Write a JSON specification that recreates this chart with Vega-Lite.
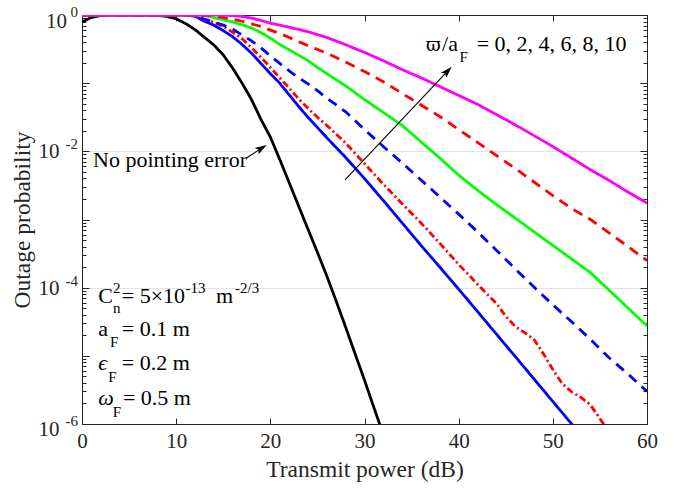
{
  "$schema": "https://vega.github.io/schema/vega-lite/v6.json",
  "width": 565,
  "height": 409,
  "autosize": "none",
  "padding": {"left": 82, "top": 15, "right": 31, "bottom": 65},
  "background": "white",
  "config": {
    "view": {"stroke": "#262626", "strokeWidth": 1},
    "font": "Liberation Serif",
    "axis": {"domainColor": "#262626", "tickColor": "#262626", "labelColor": "#262626", "titleColor": "#262626", "labelFont": "Liberation Serif", "titleFont": "Liberation Serif", "titleFontWeight": "normal", "labelFlush": false}
  },
  "datasets": {
    "curves": [
      {"s":"np","x":0,"p":0.79},{"s":"np","x":1,"p":0.92},{"s":"np","x":2,"p":0.98},{"s":"np","x":3,"p":1.0},{"s":"np","x":6,"p":1.0},{"s":"np","x":8,"p":0.985},{"s":"np","x":9,"p":0.955},{"s":"np","x":10,"p":0.88},{"s":"np","x":11,"p":0.75},{"s":"np","x":12,"p":0.61},{"s":"np","x":13,"p":0.47},{"s":"np","x":14,"p":0.363},{"s":"np","x":15,"p":0.26},{"s":"np","x":16,"p":0.166},{"s":"np","x":17,"p":0.1},{"s":"np","x":18,"p":0.0575},{"s":"np","x":19,"p":0.0295},{"s":"np","x":20,"p":0.0162},{"s":"np","x":21,"p":0.0076},{"s":"np","x":22,"p":0.00347},{"s":"np","x":23,"p":0.00158},{"s":"np","x":24,"p":0.00072},{"s":"np","x":25,"p":0.00033},{"s":"np","x":26,"p":0.000148},{"s":"np","x":27,"p":0.000063},{"s":"np","x":28,"p":0.0000263},{"s":"np","x":29,"p":0.0000107},{"s":"np","x":30,"p":0.0000044},{"s":"np","x":31,"p":0.00000174},{"s":"np","x":32,"p":0.0000007},
      {"s":"0","x":0,"p":1.0},{"s":"0","x":10,"p":1.0},{"s":"0","x":11,"p":0.995},{"s":"0","x":12,"p":0.96},{"s":"0","x":13,"p":0.81},{"s":"0","x":14,"p":0.71},{"s":"0","x":15,"p":0.59},{"s":"0","x":16,"p":0.48},{"s":"0","x":17,"p":0.37},{"s":"0","x":18,"p":0.275},{"s":"0","x":19,"p":0.195},{"s":"0","x":20,"p":0.138},{"s":"0","x":21,"p":0.1},{"s":"0","x":22,"p":0.0676},{"s":"0","x":23,"p":0.0457},{"s":"0","x":24,"p":0.0316},{"s":"0","x":25,"p":0.0224},{"s":"0","x":26,"p":0.0158},{"s":"0","x":28,"p":0.00813},{"s":"0","x":30,"p":0.00398},{"s":"0","x":32,"p":0.0019},{"s":"0","x":34,"p":0.00089},{"s":"0","x":36,"p":0.000417},{"s":"0","x":38,"p":0.0002},{"s":"0","x":40,"p":0.000095},{"s":"0","x":42,"p":0.0000447},{"s":"0","x":44,"p":0.0000209},{"s":"0","x":46,"p":0.0000098},{"s":"0","x":48,"p":0.00000457},{"s":"0","x":50,"p":0.00000214},{"s":"0","x":52,"p":0.000001},{"s":"0","x":53,"p":0.00000068},
      {"s":"2","x":0,"p":1.0},{"s":"2","x":10,"p":1.0},{"s":"2","x":11,"p":0.995},{"s":"2","x":12,"p":0.97},{"s":"2","x":13,"p":0.85},{"s":"2","x":14,"p":0.78},{"s":"2","x":15,"p":0.68},{"s":"2","x":16,"p":0.56},{"s":"2","x":17,"p":0.447},{"s":"2","x":18,"p":0.331},{"s":"2","x":19,"p":0.24},{"s":"2","x":20,"p":0.17},{"s":"2","x":21,"p":0.12},{"s":"2","x":22,"p":0.085},{"s":"2","x":23,"p":0.0589},{"s":"2","x":24,"p":0.0427},{"s":"2","x":25,"p":0.0316},{"s":"2","x":26,"p":0.024},{"s":"2","x":27,"p":0.0178},{"s":"2","x":28,"p":0.0132},{"s":"2","x":30,"p":0.0066},{"s":"2","x":32,"p":0.0033},{"s":"2","x":34,"p":0.0017},{"s":"2","x":36,"p":0.00089},{"s":"2","x":38,"p":0.000447},{"s":"2","x":40,"p":0.000219},{"s":"2","x":41,"p":0.000158},{"s":"2","x":42,"p":0.000112},{"s":"2","x":43,"p":0.000081},{"s":"2","x":44,"p":0.000059},{"s":"2","x":45,"p":0.000038},{"s":"2","x":46,"p":0.000027},{"s":"2","x":47,"p":0.0000219},{"s":"2","x":48,"p":0.0000174},{"s":"2","x":49,"p":0.0000107},{"s":"2","x":50,"p":0.0000063},{"s":"2","x":51,"p":0.0000039},{"s":"2","x":52,"p":0.00000295},{"s":"2","x":53,"p":0.00000245},{"s":"2","x":54,"p":0.0000019},{"s":"2","x":55,"p":0.0000012},{"s":"2","x":56,"p":0.00000076},
      {"s":"4","x":0,"p":1.0},{"s":"4","x":10,"p":1.0},{"s":"4","x":11,"p":0.995},{"s":"4","x":12,"p":0.975},{"s":"4","x":13,"p":0.87},{"s":"4","x":14,"p":0.79},{"s":"4","x":15,"p":0.71},{"s":"4","x":16,"p":0.62},{"s":"4","x":17,"p":0.51},{"s":"4","x":18,"p":0.417},{"s":"4","x":19,"p":0.331},{"s":"4","x":20,"p":0.251},{"s":"4","x":21,"p":0.195},{"s":"4","x":22,"p":0.151},{"s":"4","x":23,"p":0.12},{"s":"4","x":24,"p":0.0977},{"s":"4","x":25,"p":0.0776},{"s":"4","x":26,"p":0.0603},{"s":"4","x":28,"p":0.038},{"s":"4","x":30,"p":0.0209},{"s":"4","x":32,"p":0.01175},{"s":"4","x":34,"p":0.00676},{"s":"4","x":36,"p":0.0038},{"s":"4","x":38,"p":0.00214},{"s":"4","x":40,"p":0.0012},{"s":"4","x":42,"p":0.00066},{"s":"4","x":44,"p":0.000355},{"s":"4","x":46,"p":0.00019},{"s":"4","x":48,"p":0.000102},{"s":"4","x":50,"p":0.000056},{"s":"4","x":52,"p":0.0000316},{"s":"4","x":54,"p":0.0000174},{"s":"4","x":56,"p":0.0000093},{"s":"4","x":58,"p":0.0000054},{"s":"4","x":60,"p":0.000003},
      {"s":"6","x":0,"p":1.0},{"s":"6","x":12,"p":1.0},{"s":"6","x":13,"p":0.99},{"s":"6","x":14,"p":0.91},{"s":"6","x":15,"p":0.85},{"s":"6","x":16,"p":0.79},{"s":"6","x":17,"p":0.72},{"s":"6","x":18,"p":0.645},{"s":"6","x":19,"p":0.55},{"s":"6","x":20,"p":0.457},{"s":"6","x":21,"p":0.37},{"s":"6","x":22,"p":0.309},{"s":"6","x":23,"p":0.257},{"s":"6","x":24,"p":0.214},{"s":"6","x":25,"p":0.17},{"s":"6","x":26,"p":0.138},{"s":"6","x":28,"p":0.0912},{"s":"6","x":30,"p":0.0575},{"s":"6","x":32,"p":0.0372},{"s":"6","x":34,"p":0.024},{"s":"6","x":36,"p":0.0138},{"s":"6","x":38,"p":0.00794},{"s":"6","x":40,"p":0.00447},{"s":"6","x":42,"p":0.00269},{"s":"6","x":44,"p":0.00166},{"s":"6","x":46,"p":0.00105},{"s":"6","x":48,"p":0.00066},{"s":"6","x":50,"p":0.000417},{"s":"6","x":52,"p":0.000263},{"s":"6","x":54,"p":0.000166},{"s":"6","x":56,"p":0.000091},{"s":"6","x":58,"p":0.00005},{"s":"6","x":60,"p":0.0000275},
      {"s":"8","x":0,"p":1.0},{"s":"8","x":12,"p":1.0},{"s":"8","x":14,"p":0.97},{"s":"8","x":16,"p":0.87},{"s":"8","x":17,"p":0.81},{"s":"8","x":18,"p":0.74},{"s":"8","x":19,"p":0.68},{"s":"8","x":20,"p":0.6},{"s":"8","x":21,"p":0.537},{"s":"8","x":22,"p":0.468},{"s":"8","x":24,"p":0.355},{"s":"8","x":26,"p":0.275},{"s":"8","x":28,"p":0.204},{"s":"8","x":30,"p":0.148},{"s":"8","x":32,"p":0.105},{"s":"8","x":34,"p":0.0708},{"s":"8","x":36,"p":0.0479},{"s":"8","x":38,"p":0.0324},{"s":"8","x":40,"p":0.0209},{"s":"8","x":42,"p":0.0135},{"s":"8","x":44,"p":0.0087},{"s":"8","x":46,"p":0.00562},{"s":"8","x":48,"p":0.00355},{"s":"8","x":50,"p":0.00224},{"s":"8","x":52,"p":0.00145},{"s":"8","x":54,"p":0.001},{"s":"8","x":56,"p":0.00063},{"s":"8","x":58,"p":0.0004},{"s":"8","x":60,"p":0.00025},
      {"s":"10","x":0,"p":1.0},{"s":"10","x":14,"p":1.0},{"s":"10","x":16,"p":0.98},{"s":"10","x":17,"p":0.95},{"s":"10","x":18,"p":0.9},{"s":"10","x":19,"p":0.83},{"s":"10","x":20,"p":0.759},{"s":"10","x":21,"p":0.71},{"s":"10","x":22,"p":0.661},{"s":"10","x":24,"p":0.569},{"s":"10","x":26,"p":0.468},{"s":"10","x":28,"p":0.367},{"s":"10","x":30,"p":0.282},{"s":"10","x":32,"p":0.214},{"s":"10","x":34,"p":0.158},{"s":"10","x":36,"p":0.12},{"s":"10","x":38,"p":0.0891},{"s":"10","x":40,"p":0.0661},{"s":"10","x":42,"p":0.049},{"s":"10","x":44,"p":0.0347},{"s":"10","x":46,"p":0.0245},{"s":"10","x":48,"p":0.017},{"s":"10","x":50,"p":0.01175},{"s":"10","x":52,"p":0.00794},{"s":"10","x":54,"p":0.00537},{"s":"10","x":56,"p":0.00372},{"s":"10","x":58,"p":0.00251},{"s":"10","x":60,"p":0.00174}
    ],
    "arrows": [
      {"a":"np","x":17.42,"y":0.0079,"x2":19.07,"y2":0.01114},
      {"a":"w","x":27.93,"y":0.0038,"x2":38.82,"y2":0.1503}
    ],
    "mainText": [
      {"t":"No pointing error","x":1.17,"y":0.00596},
      {"t":"/a","x":38.24,"y":0.299},
      {"t":"= 0, 2, 4, 6, 8, 10","x":41.91,"y":0.299},
      {"t":"C","x":1.73,"y":0.000059},
      {"t":"= 5×10","x":4.22,"y":0.000059},
      {"t":"m","x":14.23,"y":0.000059},
      {"t":"a","x":1.73,"y":0.0000195},
      {"t":"= 0.1 m","x":4.22,"y":0.0000195},
      {"t":"= 0.2 m","x":4.22,"y":0.0000062},
      {"t":"= 0.5 m","x":4.35,"y":0.0000019}
    ],
    "greekText": [
      {"t":"ϖ","x":36.53,"y":0.299}
    ],
    "italicText": [
      {"t":"ϵ","x":1.73,"y":0.0000062},
      {"t":"ω","x":1.73,"y":0.0000019}
    ],
    "scriptText": [
      {"t":"F","x":40.1,"y":0.2065},
      {"t":"2","x":3.29,"y":0.0000835},
      {"t":"n","x":3.29,"y":0.0000421},
      {"t":"-13","x":10.99,"y":0.0000835},
      {"t":"-2/3","x":16.25,"y":0.0000835},
      {"t":"F","x":2.97,"y":0.00001333},
      {"t":"F","x":2.79,"y":0.00000418},
      {"t":"F","x":3.26,"y":0.00000128}
    ],
    "ylab": [
      {"p":1,"e":"0"},{"p":0.01,"e":"-2"},{"p":0.0001,"e":"-4"},{"p":0.000001,"e":"-6"}
    ]
  },
  "layer": [
    {
      "data": {"name": "curves"},
      "mark": {"type": "line", "strokeWidth": 2.8, "clip": true},
      "encoding": {
        "x": {"field": "x", "type": "quantitative", "scale": {"domain": [0, 60], "nice": false},
          "axis": {"orient": "bottom", "values": [0,10,20,30,40,50,60], "tickSize": -6, "labelFontSize": 21, "labelPadding": 12, "grid": false, "title": "Transmit power (dB)", "titleFontSize": 23.5, "titlePadding": 6}},
        "y": {"field": "p", "type": "quantitative", "scale": {"type": "log", "domain": [0.000001, 1], "nice": false},
          "axis": {"orient": "left", "labels": false,
            "values": [0.000001,0.000002,0.000003,0.000004,0.000005,0.000006,0.000007,0.000008,0.000009,0.00001,0.00002,0.00003,0.00004,0.00005,0.00006,0.00007,0.00008,0.00009,0.0001,0.0002,0.0003,0.0004,0.0005,0.0006,0.0007,0.0008,0.0009,0.001,0.002,0.003,0.004,0.005,0.006,0.007,0.008,0.009,0.01,0.02,0.03,0.04,0.05,0.06,0.07,0.08,0.09,0.1,0.2,0.3,0.4,0.5,0.6,0.7,0.8,0.9,1],
            "tickSize": {"condition": {"test": "abs(log(datum.value)/LN10 - round(log(datum.value)/LN10)) < 0.000001", "value": -7}, "value": -4},
            "grid": true, "gridColor": "#e3e3e3", "gridWidth": 1,
            "gridOpacity": {"condition": {"test": "abs(log(datum.value)/LN10/2 - round(log(datum.value)/LN10/2)) < 0.000001", "value": 1}, "value": 0},
            "title": "Outage probability", "titleFontSize": 23.5, "titlePadding": 47, "titleY": 204.5, "titleAngle": -90, "titleAlign": "center"}},
        "color": {"field": "s", "type": "nominal", "legend": null,
          "scale": {"domain": ["np","0","2","4","6","8","10"], "range": ["#000000","#0000ff","#ff0000","#0000ff","#00ff00","#ff0000","#ff00ff"]}},
        "strokeDash": {"field": "s", "type": "nominal", "legend": null,
          "scale": {"domain": ["np","0","2","4","6","8","10"], "range": [[1,0],[1,0],[7,3,2,3],[10,7],[1,0],[10,7],[1,0]]}}
      }
    },
    {
      "data": {"name": "curves"},
      "mark": {"type": "point", "opacity": 0},
      "encoding": {
        "x": {"field": "x", "type": "quantitative", "scale": {"domain": [0, 60], "nice": false},
          "axis": {"orient": "top", "values": [0,10,20,30,40,50,60], "tickSize": -6, "labels": false, "title": null, "grid": false}},
        "y": {"field": "p", "type": "quantitative", "scale": {"type": "log", "domain": [0.000001, 1], "nice": false},
          "axis": {"orient": "right", "labels": false, "title": null, "grid": false,
            "values": [0.000001,0.000002,0.000003,0.000004,0.000005,0.000006,0.000007,0.000008,0.000009,0.00001,0.00002,0.00003,0.00004,0.00005,0.00006,0.00007,0.00008,0.00009,0.0001,0.0002,0.0003,0.0004,0.0005,0.0006,0.0007,0.0008,0.0009,0.001,0.002,0.003,0.004,0.005,0.006,0.007,0.008,0.009,0.01,0.02,0.03,0.04,0.05,0.06,0.07,0.08,0.09,0.1,0.2,0.3,0.4,0.5,0.6,0.7,0.8,0.9,1],
            "tickSize": {"condition": {"test": "abs(log(datum.value)/LN10 - round(log(datum.value)/LN10)) < 0.000001", "value": -7}, "value": -4}}}
      }
    },
    {
      "data": {"name": "arrows"},
      "mark": {"type": "rule", "color": "#000000", "strokeWidth": 1.1},
      "encoding": {
        "x": {"field": "x", "type": "quantitative", "axis": null, "scale": {"domain": [0, 60], "nice": false}},
        "y": {"field": "y", "type": "quantitative", "axis": null, "scale": {"type": "log", "domain": [0.000001, 1], "nice": false}},
        "x2": {"field": "x2"},
        "y2": {"field": "y2"}
      }
    },
    {
      "data": {"name": "arrows"},
      "transform": [{"filter": "datum.a == 'np'"}],
      "mark": {"type": "point", "shape": "M0,-1L0.6,0.95L0,0.55L-0.6,0.95Z", "filled": true, "color": "#000000", "opacity": 1, "size": 150, "angle": 59},
      "encoding": {
        "x": {"field": "x2", "type": "quantitative", "axis": null, "scale": {"domain": [0, 60], "nice": false}},
        "y": {"field": "y2", "type": "quantitative", "axis": null, "scale": {"type": "log", "domain": [0.000001, 1], "nice": false}}
      }
    },
    {
      "data": {"name": "arrows"},
      "transform": [{"filter": "datum.a == 'w'"}],
      "mark": {"type": "point", "shape": "M0,-1L0.6,0.95L0,0.55L-0.6,0.95Z", "filled": true, "color": "#000000", "opacity": 1, "size": 150, "angle": 43},
      "encoding": {
        "x": {"field": "x2", "type": "quantitative", "axis": null, "scale": {"domain": [0, 60], "nice": false}},
        "y": {"field": "y2", "type": "quantitative", "axis": null, "scale": {"type": "log", "domain": [0.000001, 1], "nice": false}}
      }
    },
    {
      "data": {"name": "mainText"},
      "mark": {"type": "text", "font": "Liberation Serif", "fontSize": 22, "align": "left", "baseline": "alphabetic", "color": "#000000"},
      "encoding": {
        "x": {"field": "x", "type": "quantitative", "axis": null, "scale": {"domain": [0, 60], "nice": false}},
        "y": {"field": "y", "type": "quantitative", "axis": null, "scale": {"type": "log", "domain": [0.000001, 1], "nice": false}},
        "text": {"field": "t"}
      }
    },
    {
      "data": {"name": "greekText"},
      "mark": {"type": "text", "font": "DejaVu Serif", "fontSize": 18, "align": "left", "baseline": "alphabetic", "color": "#000000"},
      "encoding": {
        "x": {"field": "x", "type": "quantitative", "axis": null, "scale": {"domain": [0, 60], "nice": false}},
        "y": {"field": "y", "type": "quantitative", "axis": null, "scale": {"type": "log", "domain": [0.000001, 1], "nice": false}},
        "text": {"field": "t"}
      }
    },
    {
      "data": {"name": "italicText"},
      "mark": {"type": "text", "font": "Liberation Serif", "fontSize": 22, "fontStyle": "italic", "align": "left", "baseline": "alphabetic", "color": "#000000"},
      "encoding": {
        "x": {"field": "x", "type": "quantitative", "axis": null, "scale": {"domain": [0, 60], "nice": false}},
        "y": {"field": "y", "type": "quantitative", "axis": null, "scale": {"type": "log", "domain": [0.000001, 1], "nice": false}},
        "text": {"field": "t"}
      }
    },
    {
      "data": {"name": "scriptText"},
      "mark": {"type": "text", "font": "Liberation Serif", "fontSize": 15, "align": "left", "baseline": "alphabetic", "color": "#000000"},
      "encoding": {
        "x": {"field": "x", "type": "quantitative", "axis": null, "scale": {"domain": [0, 60], "nice": false}},
        "y": {"field": "y", "type": "quantitative", "axis": null, "scale": {"type": "log", "domain": [0.000001, 1], "nice": false}},
        "text": {"field": "t"}
      }
    },
    {
      "data": {"name": "ylab"},
      "transform": [{"filter": "datum.p == 0.01 || datum.p == 0.0001"}],
      "mark": {"type": "text", "font": "Liberation Serif", "fontSize": 21, "align": "right", "baseline": "alphabetic", "dx": -22.5, "dy": 7, "color": "#262626"},
      "encoding": {
        "x": {"datum": 0, "type": "quantitative", "axis": null, "scale": {"domain": [0, 60], "nice": false}},
        "y": {"field": "p", "type": "quantitative", "axis": null, "scale": {"type": "log", "domain": [0.000001, 1], "nice": false}},
        "text": {"value": "10"}
      }
    },
    {
      "data": {"name": "ylab"},
      "transform": [{"filter": "datum.p == 0.000001"}],
      "mark": {"type": "text", "font": "Liberation Serif", "fontSize": 21, "align": "right", "baseline": "alphabetic", "dx": -22.5, "dy": 12, "color": "#262626"},
      "encoding": {
        "x": {"datum": 0, "type": "quantitative", "axis": null, "scale": {"domain": [0, 60], "nice": false}},
        "y": {"field": "p", "type": "quantitative", "axis": null, "scale": {"type": "log", "domain": [0.000001, 1], "nice": false}},
        "text": {"value": "10"}
      }
    },
    {
      "data": {"name": "ylab"},
      "transform": [{"filter": "datum.p == 1"}],
      "mark": {"type": "text", "font": "Liberation Serif", "fontSize": 21, "align": "right", "baseline": "alphabetic", "dx": -15, "dy": 13, "color": "#262626"},
      "encoding": {
        "x": {"datum": 0, "type": "quantitative", "axis": null, "scale": {"domain": [0, 60], "nice": false}},
        "y": {"field": "p", "type": "quantitative", "axis": null, "scale": {"type": "log", "domain": [0.000001, 1], "nice": false}},
        "text": {"value": "10"}
      }
    },
    {
      "data": {"name": "ylab"},
      "transform": [{"filter": "datum.p == 0.01 || datum.p == 0.0001"}],
      "mark": {"type": "text", "font": "Liberation Serif", "fontSize": 15, "align": "right", "baseline": "alphabetic", "dx": -4, "dy": -2, "color": "#262626"},
      "encoding": {
        "x": {"datum": 0, "type": "quantitative", "axis": null, "scale": {"domain": [0, 60], "nice": false}},
        "y": {"field": "p", "type": "quantitative", "axis": null, "scale": {"type": "log", "domain": [0.000001, 1], "nice": false}},
        "text": {"field": "e"}
      }
    },
    {
      "data": {"name": "ylab"},
      "transform": [{"filter": "datum.p == 1 || datum.p == 0.000001"}],
      "mark": {"type": "text", "font": "Liberation Serif", "fontSize": 15, "align": "right", "baseline": "alphabetic", "dx": -4, "dy": 2, "color": "#262626"},
      "encoding": {
        "x": {"datum": 0, "type": "quantitative", "axis": null, "scale": {"domain": [0, 60], "nice": false}},
        "y": {"field": "p", "type": "quantitative", "axis": null, "scale": {"type": "log", "domain": [0.000001, 1], "nice": false}},
        "text": {"field": "e"}
      }
    }
  ],
  "resolve": {"axis": {"x": "independent", "y": "independent"}}
}
